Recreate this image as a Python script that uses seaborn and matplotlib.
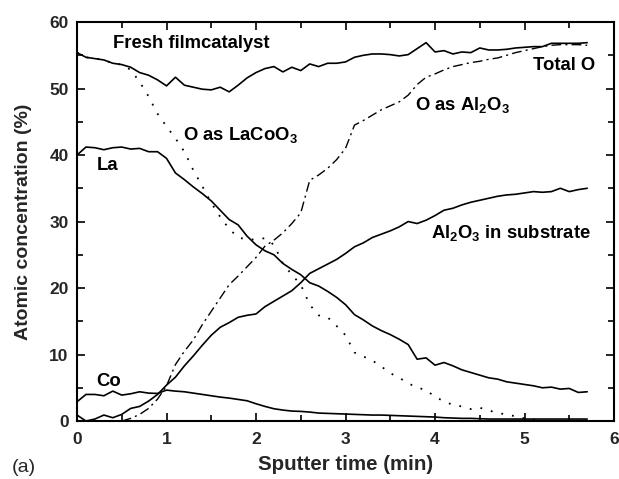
import numpy as np
import pandas as pd
import seaborn as sns
import matplotlib
matplotlib.use('Agg')
import matplotlib.pyplot as plt
from matplotlib.ticker import MultipleLocator

# sputter time (min)
time = [0.0, 0.1, 0.2, 0.3, 0.4, 0.5, 0.6, 0.7, 0.8, 0.9,
        1.0, 1.1, 1.2, 1.3, 1.4, 1.5, 1.6, 1.7, 1.8, 1.9,
        2.0, 2.1, 2.2, 2.3, 2.4, 2.5, 2.6, 2.7, 2.8, 2.9,
        3.0, 3.1, 3.2, 3.3, 3.4, 3.5, 3.6, 3.7, 3.8, 3.9,
        4.0, 4.1, 4.2, 4.3, 4.4, 4.5, 4.6, 4.7, 4.8, 4.9,
        5.0, 5.1, 5.2, 5.3, 5.4, 5.5, 5.6, 5.7]
nan = np.nan

total_o = [55.4, 54.7, 54.5, 54.3, 53.8, 53.6, 53.2, 52.4, 52.0, 51.3,
           50.4, 51.7, 50.5, 50.2, 49.9, 49.8, 50.2, 49.5, 50.5, 51.6,
           52.4, 53.0, 53.3, 52.5, 53.2, 52.7, 53.7, 53.3, 53.8, 53.8,
           54.0, 54.7, 55.0, 55.2, 55.2, 55.1, 54.9, 55.1, 56.0, 56.9,
           55.5, 55.7, 55.2, 55.5, 55.4, 56.1, 55.8, 55.8, 55.9, 56.1,
           56.2, 56.3, 56.3, 56.8, 56.8, 56.8, 56.8, 56.9]

o_al2o3 = [nan, nan, nan, nan, nan, 0.0, 0.4, 1.0, 1.9, 3.3,
           5.3, 8.5, 10.5, 12.2, 14.5, 16.5, 18.5, 20.5, 21.8, 23.2,
           24.6, 26.3, 27.2, 28.3, 29.7, 31.3, 36.2, 37.0, 38.0, 39.3,
           41.0, 44.5, 45.2, 46.0, 46.8, 47.4, 48.0, 49.0, 50.6, 51.7,
           52.2, 52.8, 53.3, 53.6, 53.9, 54.1, 54.4, 54.6, 55.0, 55.4,
           55.7, 56.0, 56.3, 56.5, 56.6, 56.6, 56.6, 56.5]

o_lacoo3 = [55.4, 54.7, 54.5, 54.3, 53.8, 53.6, 52.8, 51.0, 48.8, 46.2,
            44.3, 42.5, 40.5, 37.7, 35.3, 32.8, 30.7, 28.9, 27.6, 27.3,
            27.3, 27.5, 26.5, 23.7, 22.0, 20.5, 17.5, 15.9, 15.6, 14.3,
            12.9, 10.3, 9.7, 9.1, 8.2, 7.2, 6.5, 5.7, 5.0, 4.7,
            3.6, 3.0, 2.4, 2.2, 1.8, 2.0, 1.6, 1.2, 1.0, 0.7,
            0.4, 0.2, 0.1, nan, nan, nan, nan, nan]

la = [40.0, 41.2, 41.1, 40.8, 41.1, 41.2, 40.9, 41.0, 40.5, 40.5,
      39.5, 37.3, 36.3, 35.2, 34.2, 33.1, 31.7, 30.3, 29.5, 27.8,
      26.5, 25.6, 25.0, 23.7, 22.8, 22.0, 20.8, 20.3, 19.5, 18.6,
      17.5, 16.0, 15.2, 14.3, 13.6, 13.0, 12.3, 11.5, 9.3, 9.5,
      8.4, 8.8, 8.3, 7.7, 7.3, 6.9, 6.5, 6.3, 5.9, 5.7,
      5.5, 5.3, 5.0, 5.1, 4.8, 4.9, 4.3, 4.4]

al2o3_sub = [0.9, 0.0, 0.3, 0.9, 0.5, 1.0, 1.9, 2.2, 3.0, 4.0,
             5.4, 6.6, 8.3, 9.8, 11.4, 12.9, 14.1, 14.8, 15.6, 15.9,
             16.1, 17.2, 18.0, 18.8, 19.6, 20.8, 22.2, 22.9, 23.6, 24.3,
             25.2, 26.2, 26.8, 27.6, 28.1, 28.6, 29.2, 30.0, 29.7, 30.2,
             30.9, 31.7, 32.0, 32.5, 32.9, 33.2, 33.5, 33.8, 34.0, 34.1,
             34.3, 34.5, 34.4, 34.5, 35.0, 34.5, 34.8, 35.0]

co = [2.9, 4.0, 4.0, 3.8, 4.5, 3.9, 4.1, 4.4, 4.2, 4.15,
      4.65, 4.5, 4.4, 4.2, 4.0, 3.8, 3.6, 3.45, 3.25, 3.05,
      2.6, 2.2, 1.85, 1.65, 1.5, 1.45, 1.35, 1.2, 1.15, 1.1,
      1.05, 1.0, 0.95, 0.9, 0.9, 0.85, 0.8, 0.75, 0.7, 0.65,
      0.6, 0.5, 0.45, 0.4, 0.4, 0.35, 0.3, 0.3, 0.3, 0.3,
      0.3, 0.3, 0.3, 0.3, 0.3, 0.3, 0.3, 0.3]

sns.set_style('ticks')
plt.rcParams['font.family'] = ['Liberation Sans', 'DejaVu Sans']
plt.rcParams['font.weight'] = 'bold'
plt.rcParams['mathtext.fontset'] = 'custom'
plt.rcParams['mathtext.rm'] = 'Liberation Sans:bold'
plt.rcParams['mathtext.bf'] = 'Liberation Sans:bold'

fig = plt.figure(figsize=(6.19, 4.79), dpi=100)
ax = fig.add_axes([0.1244, 0.121, 0.8676, 0.833])

df = pd.DataFrame({'time': time, 'total': total_o, 'oal': o_al2o3,
                   'olac': o_lacoo3, 'la': la, 'sub': al2o3_sub, 'co': co})

sns.lineplot(data=df, x='time', y='total', ax=ax, color='black', lw=1.2)
sns.lineplot(data=df, x='time', y='oal', ax=ax, color='black', lw=1.0,
             linestyle=(0, (7, 3, 1.5, 3)))
sns.lineplot(data=df, x='time', y='olac', ax=ax, color='black', lw=1.3,
             linestyle=(0, (1, 5)))
sns.lineplot(data=df, x='time', y='la', ax=ax, color='black', lw=1.2)
sns.lineplot(data=df, x='time', y='sub', ax=ax, color='black', lw=1.2)
sns.lineplot(data=df, x='time', y='co', ax=ax, color='black', lw=1.2)

ax.set_xlim(0, 6)
ax.set_ylim(0, 60)
ax.xaxis.set_major_locator(MultipleLocator(1))
ax.xaxis.set_minor_locator(MultipleLocator(0.5))
ax.yaxis.set_major_locator(MultipleLocator(10))
ax.yaxis.set_minor_locator(MultipleLocator(5))
ax.tick_params(which='both', direction='in', top=True, right=True,
               labelsize=12.5, width=1.2, color='black')
ax.tick_params(axis='x', which='major', pad=8)
ax.tick_params(axis='y', which='major', pad=6)
ax.tick_params(which='major', length=6)
ax.tick_params(which='minor', length=4)
for s in ax.spines.values():
    s.set_linewidth(1.5)
    s.set_color('black')

ax.set_xlabel('Sputter time (min)', fontsize=14.8, fontweight='bold', labelpad=6)
ax.set_ylabel('Atomic concentration (%)', fontsize=14, fontweight='bold')
ax.yaxis.set_label_coords(-0.084, 0.5)

kw = dict(fontsize=13.3, fontweight='bold', color='black', va='center')
ax.text(0.4, 56.8, 'Fresh filmcatalyst', ha='left', **kw)
ax.text(1.18, 43.0, 'O as LaCoO$_3$', ha='left', **kw)
ax.text(0.22, 38.5, 'La', ha='left', **kw)
ax.text(0.22, 5.9, 'Co', ha='left', **kw)
ax.text(5.79, 53.4, 'Total O', ha='right', **kw)
ax.text(3.78, 47.5, 'O as Al$_2$O$_3$', ha='left', **kw)
ax.text(3.96, 28.3, 'Al$_2$O$_3$ in substrate', ha='left', **kw)

fig.text(0.019, 0.025, '(a)', fontsize=14, fontweight='normal', ha='left', va='center')

fig.savefig('out.png', dpi=100)
